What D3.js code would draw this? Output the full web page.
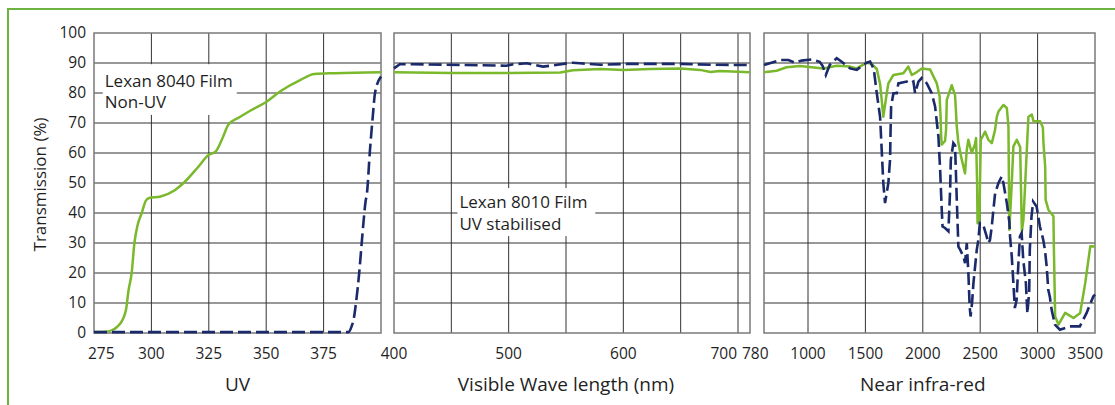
<!DOCTYPE html>
<html>
<head>
<meta charset="utf-8">
<script src="https://cdn.jsdelivr.net/npm/d3@7"></script>
<style>
	body { margin: 0; background: #fff; }
	text { font-family: "Open Sans", sans-serif; fill: #1f1f1f; }
	.grid { stroke: #333; stroke-width: 1; }
	.frame { fill: none; stroke: #7a7a7a; stroke-width: 1.5; }
	.border { stroke: #6db33f; stroke-width: 2; }
	.line-nonuv { fill: none; stroke: #7ab82c; stroke-width: 2.5; stroke-linejoin: round; }
	.line-uvstab { fill: none; stroke: #1b2a6b; stroke-width: 2.6; stroke-dasharray: 13,5; }
	.tick-label { font-size: 15.5px; }
	.axis-title { font-size: 19px; }
	.y-title { font-size: 17px; }
	.note { font-size: 17px; }
</style>
</head>
<body>
<div id="chart"></div>
<script>
var width = 1115;
var height = 405;

// - data -

var yTicks = [0, 10, 20, 30, 40, 50, 60, 70, 80, 90, 100];

var uvGrid = [300, 325, 350, 375];
var uvTicks = [275, 300, 325, 350, 375];
var visGrid = [450, 500, 550, 600, 650, 700];
var visTicks = [400, 500, 600, 700, 780];
var nirGrid = [1000, 1500, 2000, 2500, 3000];
var nirTicks = [1000, 1500, 2000, 2500, 3000, 3500];

var axisTitles = ['UV', 'Visible Wave length (nm)', 'Near infra-red'];
var noteNonUV = ['Lexan 8040 Film', 'Non-UV'];
var noteStab = ['Lexan 8010 Film', 'UV stabilised'];

// [wavelength, transmission %]
var uvNonUV = [[275, 0.3], [280, 0.4], [283, 1], [285, 2], [287.5, 4.5], [289, 8], [290, 14],
	[291.4, 20], [292.6, 30], [294, 36], [295.8, 40], [297.5, 44], [299, 45], [304, 45.5],
	[310, 47.5], [314, 50], [320, 55], [325, 59.4], [328, 60.5], [331, 65], [333.5, 69.4],
	[338.5, 72], [344, 74.5], [350, 77], [356, 80.5], [365, 84.4], [371, 86.3], [380, 86.6], [400, 86.9]];
var uvStab = [[275, 0.3], [385.8, 0.3], [387.2, 2.2], [388.2, 5], [389.1, 10], [390.5, 20],
	[391.6, 30], [392.5, 38], [393.3, 44], [393.8, 46], [395.2, 61], [396.4, 72], [397.4, 80], [400, 85.5]];

var visNonUV = [[400, 86.9], [417, 86.8], [450, 86.7], [500, 86.7], [545, 86.8], [556, 87.6],
	[580, 88], [600, 87.7], [623, 88], [650, 88.2], [667, 87.7], [676, 87], [684, 87.3], [700, 87.1], [780, 86.9]];
var visStab = [[400, 88.2], [405, 89.6], [417, 89.6], [498, 89.1], [504, 89.6], [516, 89.9],
	[530, 88.8], [539, 89.2], [551, 89.9], [556, 90.1], [562, 89.9], [580, 89.4], [603, 89.7],
	[650, 89.7], [679, 89.4], [780, 89.3]];

var nirNonUV = [[780, 86.9], [843, 87.4], [893, 88.6], [960, 89], [1133, 88.2], [1250, 89.1],
	[1366, 88.8], [1425, 88.2], [1512, 90.1], [1555, 89.7], [1599, 88], [1628, 83], [1642, 77.7],
	[1656, 72.1], [1686, 79.9], [1700, 83.2], [1744, 86], [1831, 86.6], [1874, 88.8], [1904, 86],
	[1933, 86.6], [1991, 88.2], [2064, 87.8], [2122, 83.2], [2146, 79], [2155, 72], [2160, 65.5],
	[2165, 62.8], [2194, 64], [2203, 68], [2209, 77.7], [2223, 79.3], [2252, 82.6], [2281, 79.3],
	[2296, 68.8], [2310, 63.3], [2340, 57.7], [2368, 53.2], [2383, 61], [2397, 64.4], [2426, 60],
	[2455, 63], [2464, 65], [2473, 50], [2477, 36.6], [2493, 38], [2505, 64.4], [2543, 67.1],
	[2571, 64.4], [2601, 63.3], [2630, 67.8], [2645, 72.1], [2659, 73.8], [2702, 76], [2732, 75],
	[2746, 68.8], [2754, 34.4], [2775, 49.9], [2789, 62.2], [2819, 64.4], [2848, 62], [2863, 33.9],
	[2877, 38], [2906, 61], [2920, 72.1], [2950, 72.8], [2964, 70.6], [3022, 70.6], [3046, 68.5],
	[3051, 63.3], [3066, 55.5], [3070, 44.4], [3094, 41.1], [3138, 38.9], [3142, 27.8], [3153, 5.5],
	[3182, 2.8], [3240, 6.7], [3313, 5], [3371, 6.7], [3415, 16.7], [3459, 28.9], [3500, 28.8]];
var nirStab = [[780, 89.3], [860, 91], [902, 91], [935, 90.1], [968, 90.8], [1030, 91.2],
	[1102, 90.4], [1128, 89], [1155, 86], [1190, 89.4], [1250, 91.6], [1294, 90.4], [1366, 88.2],
	[1425, 87.7], [1482, 89.4], [1512, 90.1], [1541, 90.5], [1573, 88], [1599, 80], [1628, 72],
	[1642, 61], [1656, 50], [1671, 43.3], [1700, 50], [1715, 58], [1719, 67], [1724, 75.5],
	[1744, 79.9], [1773, 79.9], [1787, 83.2], [1860, 83.8], [1889, 83.2], [1918, 83.8], [1933, 79.9],
	[1962, 83.8], [1991, 85], [2035, 83.2], [2078, 79.9], [2107, 75.5], [2136, 65.5], [2151, 54.4],
	[2165, 41.1], [2172, 35.5], [2194, 35], [2223, 33.9], [2238, 47.7], [2244, 57.7], [2266, 63.3],
	[2281, 62.5], [2296, 44.4], [2310, 28.8], [2325, 27.8], [2354, 25.5], [2368, 23.3], [2383, 30],
	[2397, 20], [2408, 9], [2416, 5.5], [2429, 10], [2441, 16.6], [2470, 27.7], [2484, 31.1],
	[2497, 36.6], [2526, 36.1], [2556, 32.2], [2571, 30], [2585, 31], [2601, 35.5], [2615, 41.1],
	[2630, 46.6], [2659, 50], [2688, 52.2], [2702, 50], [2732, 43.3], [2754, 37], [2760, 32.2],
	[2775, 25.5], [2789, 16.6], [2802, 8.3], [2817, 11], [2831, 22], [2846, 32.2], [2861, 33.3],
	[2875, 24.4], [2898, 16.6], [2911, 6.5], [2927, 14], [2932, 27.7], [2947, 38.8], [2961, 43.8],
	[2991, 42.2], [3020, 35.5], [3049, 31.1], [3064, 27.7], [3079, 22.2], [3093, 14.4], [3107, 12],
	[3122, 7.8], [3151, 2.8], [3194, 1.1], [3281, 2.2], [3368, 2.2], [3427, 6.7], [3485, 12.2], [3500, 12.8]];

// - scales -

var y = d3.scaleLinear().domain([0, 100]).range([333, 33]);
var xUV = d3.scaleLinear().domain([275, 400]).range([94, 381]);
var xVis = d3.scaleLinear().domain([400, 700, 780]).range([394, 738, 750]);
var xNIR = d3.scaleLinear().domain([780, 1000, 3500]).range([764, 808, 1095]);

var panels = [
	{ x: xUV, grid: uvGrid, ticks: uvTicks, nonuv: uvNonUV, stab: uvStab, title: axisTitles[0], titleAt: 337.5,
		anchor: function(v) { return v == 275 ? ['start', -6] : ['middle', 0]; } },
	{ x: xVis, grid: visGrid, ticks: visTicks, nonuv: visNonUV, stab: visStab, title: axisTitles[1], titleAt: 550,
		anchor: function(v) { return v == 700 ? ['end', -1] : v == 780 ? ['start', -8] : ['middle', 0]; } },
	{ x: xNIR, grid: nirGrid, ticks: nirTicks, nonuv: nirNonUV, stab: nirStab, title: axisTitles[2], titleAt: 2000,
		anchor: function(v) { return v == 3500 ? ['end', 8] : ['middle', 0]; } }
];

var svg = d3.select('#chart').append('svg')
	.attr('width', width)
	.attr('height', height);

// outer green border (top and left)
svg.append('line').attr('class', 'border')
	.attr('x1', 7).attr('y1', 9).attr('x2', width).attr('y2', 9);
svg.append('line').attr('class', 'border')
	.attr('x1', 8).attr('y1', 8).attr('x2', 8).attr('y2', height);

// - panels -

panels.forEach(function(p) {
	var x0 = p.x.range()[0];
	var x1 = p.x.range()[p.x.range().length - 1];
	var g = svg.append('g');

	g.selectAll('.hgrid')
		.data(yTicks.slice(1, -1))
		.enter().append('line')
			.attr('class', 'grid')
			.attr('x1', x0).attr('x2', x1)
			.attr('y1', function(d) { return y(d); })
			.attr('y2', function(d) { return y(d); });

	g.selectAll('.vgrid')
		.data(p.grid)
		.enter().append('line')
			.attr('class', 'grid')
			.attr('x1', function(d) { return p.x(d); })
			.attr('x2', function(d) { return p.x(d); })
			.attr('y1', y(0)).attr('y2', y(100));

	g.append('rect')
		.attr('class', 'frame')
		.attr('x', x0).attr('y', y(100))
		.attr('width', x1 - x0).attr('height', y(0) - y(100));

	g.selectAll('.tick-label')
		.data(p.ticks)
		.enter().append('text')
			.attr('class', 'tick-label')
			.attr('x', function(d) { return p.x(d) + p.anchor(d)[1]; })
			.attr('y', 359)
			.attr('text-anchor', function(d) { return p.anchor(d)[0]; })
			.text(function(d) { return d; });

	g.append('text')
		.attr('class', 'axis-title')
		.attr('x', p.x(p.titleAt))
		.attr('y', 391)
		.attr('text-anchor', 'middle')
		.text(p.title);

	p.g = g;
});

// - notes (white boxes cut the grid) -

function note(g, x, lines, x0, x1, yTop, yBottom, yLine1, yLine2) {
	g.append('rect')
		.attr('x', x(x0)).attr('y', y(yTop))
		.attr('width', x(x1) - x(x0)).attr('height', y(yBottom) - y(yTop))
		.attr('fill', '#fff');
	g.append('text').attr('class', 'note')
		.attr('x', x(x0) + 2).attr('y', y(yLine1)).text(lines[0]);
	g.append('text').attr('class', 'note')
		.attr('x', x(x0) + 2).attr('y', y(yLine2)).text(lines[1]);
}

note(panels[0].g, xUV, noteNonUV, 278.8, 337.2, 89.6, 72.7, 82, 75);
note(panels[1].g, xVis, noteStab, 455.3, 575.5, 48.3, 32.3, 41.7, 34.3);

// - lines -

panels.forEach(function(p) {
	var curve = p.x === xUV ? d3.curveMonotoneX : d3.curveLinear;
	var line = d3.line()
		.x(function(d) { return p.x(d[0]); })
		.y(function(d) { return y(d[1]); })
		.curve(curve);

	p.g.append('path')
		.attr('class', 'line-nonuv')
		.attr('d', line(p.nonuv));

	p.g.append('path')
		.attr('class', 'line-uvstab')
		.attr('d', line(p.stab));
});

// - y axis -

svg.selectAll('.y-label')
	.data(yTicks)
	.enter().append('text')
		.attr('class', 'tick-label')
		.attr('x', 86)
		.attr('y', function(d) { return y(d); })
		.attr('dy', '0.35em')
		.attr('text-anchor', 'end')
		.text(function(d) { return d; });

svg.append('text')
	.attr('class', 'y-title')
	.attr('transform', 'translate(46,' + y(49.5) + ') rotate(-90)')
	.attr('text-anchor', 'middle')
	.text('Transmission (%)');
</script>
</body>
</html>
